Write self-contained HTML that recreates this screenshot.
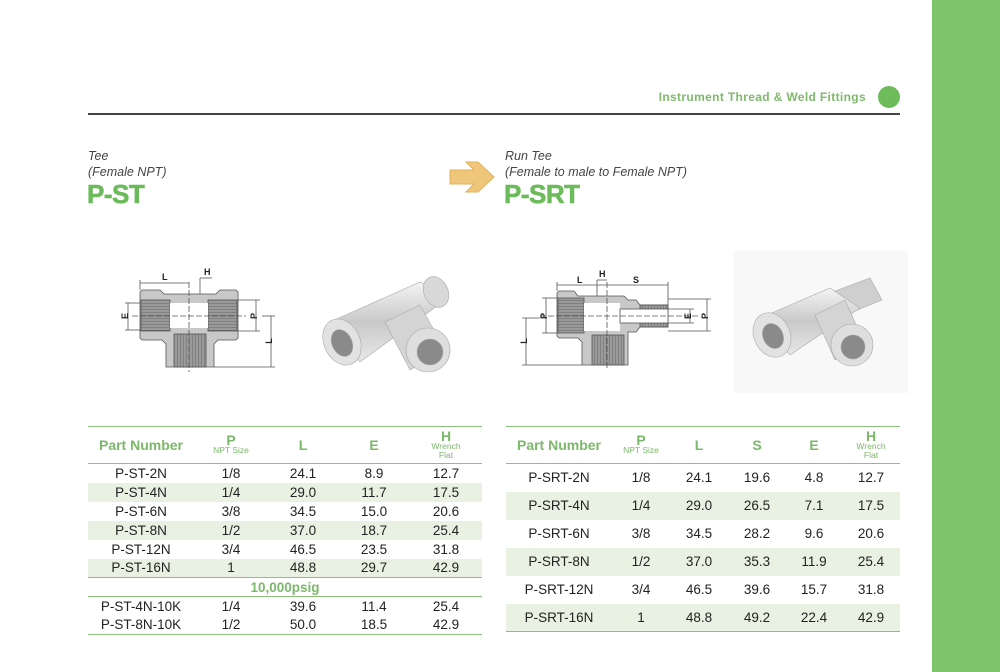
<!DOCTYPE html>
<html><head><meta charset="utf-8"><style>
*{margin:0;padding:0;box-sizing:border-box}
body{width:1000px;height:672px;background:#fff;position:relative;overflow:hidden;font-family:"Liberation Sans",sans-serif;color:#333}
.abs{position:absolute}
.sub{font-style:italic;font-size:12.5px;color:#444;line-height:16px}
.code{font-weight:bold;font-size:26px;color:#6cbb5a;letter-spacing:-0.5px;-webkit-text-stroke:0.6px #6cbb5a}
table{border-collapse:collapse;position:absolute;font-size:13.5px;color:#222}
td{text-align:center;padding:0}
tr.h td{color:#7cb86a;font-weight:bold;font-size:14px;border-top:1.5px solid #8bc27b;border-bottom:1.5px solid #8bc27b;height:37px;line-height:11px}
tr.h td small{display:block;font-size:8.5px;font-weight:normal;line-height:9px}
tr.s td{background:#e9f2e2}
tr.last td{border-bottom:1.5px solid #8bc27b}
</style></head><body>
<div class="abs" style="left:932px;top:0;width:68px;height:672px;background:#7dc46b"></div>
<div class="abs" style="right:134px;top:90px;font-size:12px;font-weight:bold;color:#7fba6c;letter-spacing:0.35px">Instrument Thread &amp; Weld Fittings</div>
<div class="abs" style="left:878px;top:86px;width:22px;height:22px;border-radius:50%;background:#6dbb5b"></div>
<div class="abs" style="left:88px;top:113px;width:812px;height:2px;background:#444"></div>

<div class="abs sub" style="left:88px;top:148px">Tee<br>(Female NPT)</div>
<div class="abs code" style="left:87px;top:179px">P-ST</div>
<div class="abs sub" style="left:505px;top:148px">Run Tee<br>(Female to male to Female NPT)</div>
<div class="abs code" style="left:504px;top:179px">P-SRT</div>
<svg class="abs" style="left:448px;top:160px" width="50" height="36"><polygon points="2,10 26,10 18,2 30,2 46,17 30,32 18,32 26,24 2,24" fill="#f0c77a" stroke="#e0b060" stroke-width="1"/></svg>

<svg class="abs" style="left:0;top:0" width="930" height="420">
<defs>
<pattern id="th" width="3" height="3" patternUnits="userSpaceOnUse"><rect width="3" height="3" fill="#9a9a9a"/><line x1="0" y1="0" x2="3" y2="0" stroke="#666" stroke-width="1"/></pattern>
<pattern id="tv" width="3" height="3" patternUnits="userSpaceOnUse"><rect width="3" height="3" fill="#9a9a9a"/><line x1="0" y1="0" x2="0" y2="3" stroke="#666" stroke-width="1"/></pattern>
<linearGradient id="met" x1="0" y1="0" x2="0" y2="1"><stop offset="0" stop-color="#f4f4f4"/><stop offset=".5" stop-color="#c9c9c9"/><stop offset="1" stop-color="#e8e8e8"/></linearGradient>
</defs>
<g stroke="#555" stroke-width="0.8" font-size="9" font-weight="bold" fill="#222">
<path d="M142,290 L160,290 L164,294 L216,294 L220,290 L236,290 L238,292 L238,338 L236,340 L218,340 L214,344 L214,367 L166,367 L166,344 L162,340 L142,340 L140,338 L140,292Z" fill="#c8c8c8"/>
<rect x="141" y="300" width="29" height="31" fill="url(#th)"/>
<rect x="208" y="300" width="29" height="31" fill="url(#th)"/>
<rect x="174" y="334" width="32" height="33" fill="url(#tv)"/>
<rect x="170" y="303" width="38" height="25" fill="#fff" stroke="none"/>
<line x1="189" y1="282" x2="189" y2="372" stroke-dasharray="6,2"/>
<line x1="132" y1="316" x2="246" y2="316" stroke-dasharray="6,2"/>
<line x1="140" y1="283" x2="189" y2="283"/><line x1="140" y1="280" x2="140" y2="290"/>
<line x1="200" y1="294" x2="200" y2="278"/><line x1="200" y1="278" x2="212" y2="278"/>
<line x1="128" y1="303" x2="128" y2="330"/><line x1="125" y1="303" x2="140" y2="303"/><line x1="125" y1="330" x2="140" y2="330"/>
<line x1="256" y1="300" x2="256" y2="331"/><line x1="238" y1="300" x2="260" y2="300"/><line x1="238" y1="331" x2="260" y2="331"/>
<line x1="271" y1="316" x2="271" y2="367"/><line x1="214" y1="367" x2="275" y2="367"/><line x1="262" y1="316" x2="275" y2="316"/>
<text x="162" y="280" stroke="none">L</text><text x="204" y="275" stroke="none">H</text>
<text x="124" y="320" stroke="none" transform="rotate(-90 124 316)" text-anchor="middle">E</text>
<text x="253" y="320" stroke="none" transform="rotate(-90 253 316)" text-anchor="middle">P</text>
<text x="268" y="345" stroke="none" transform="rotate(-90 268 341)" text-anchor="middle">L</text>
<path d="M559,291 L574,291 L578,296 L624,296 L628,300 L636,300 L640,305 L668,305 L668,327 L640,327 L636,332 L628,332 L628,365 L582,365 L582,342 L578,338 L559,338 L557,336 L557,293Z" fill="#c8c8c8"/>
<rect x="558" y="298" width="26" height="35" fill="url(#th)"/>
<rect x="640" y="305" width="28" height="4" fill="url(#tv)"/><rect x="640" y="323" width="28" height="4" fill="url(#tv)"/>
<rect x="592" y="335" width="32" height="30" fill="url(#tv)"/>
<rect x="584" y="303" width="36" height="28" fill="#fff" stroke="none"/>
<rect x="620" y="309" width="48" height="14" fill="#fff"/>
<line x1="607" y1="282" x2="607" y2="370" stroke-dasharray="6,2"/>
<line x1="540" y1="316" x2="700" y2="316" stroke-dasharray="6,2"/>
<line x1="557" y1="285" x2="607" y2="285"/><line x1="557" y1="282" x2="557" y2="291"/>
<line x1="607" y1="285" x2="668" y2="285"/><line x1="668" y1="282" x2="668" y2="305"/>
<line x1="597" y1="296" x2="597" y2="280"/><line x1="597" y1="280" x2="607" y2="280"/>
<line x1="546" y1="298" x2="546" y2="333"/><line x1="542" y1="298" x2="557" y2="298"/><line x1="542" y1="333" x2="557" y2="333"/>
<line x1="526" y1="318" x2="526" y2="365"/><line x1="522" y1="365" x2="582" y2="365"/><line x1="522" y1="318" x2="540" y2="318"/>
<line x1="690" y1="309" x2="690" y2="323"/><line x1="668" y1="309" x2="694" y2="309"/><line x1="668" y1="323" x2="694" y2="323"/>
<line x1="707" y1="299" x2="707" y2="331"/><line x1="668" y1="299" x2="711" y2="299"/><line x1="668" y1="331" x2="711" y2="331"/>
<text x="577" y="283" stroke="none">L</text><text x="599" y="277" stroke="none">H</text><text x="633" y="283" stroke="none">S</text>
<text x="543" y="320" stroke="none" transform="rotate(-90 543 316)" text-anchor="middle">P</text>
<text x="523" y="345" stroke="none" transform="rotate(-90 523 341)" text-anchor="middle">L</text>
<text x="687" y="320" stroke="none" transform="rotate(-90 687 316)" text-anchor="middle">E</text>
<text x="704" y="320" stroke="none" transform="rotate(-90 704 316)" text-anchor="middle">P</text>
</g>
<g stroke="#aaa" stroke-width="0.6">
<polygon points="330,322 420,282 448,298 360,362" fill="url(#met)"/>
<ellipse cx="436" cy="292" rx="12" ry="16" fill="#d8d8d8" transform="rotate(-25 436 292)"/>
<polygon points="385,322 420,305 445,350 410,370" fill="#d4d4d4"/>
<ellipse cx="428" cy="350" rx="22" ry="22" fill="#dedede"/>
<ellipse cx="430" cy="352" rx="13" ry="13" fill="#8a8a8a"/>
<ellipse cx="342" cy="342" rx="18" ry="24" fill="#e2e2e2" transform="rotate(-25 342 342)"/>
<ellipse cx="342" cy="343" rx="10" ry="14" fill="#8a8a8a" transform="rotate(-25 342 343)"/>
</g>
<rect x="734" y="251" width="174" height="142" fill="#f8f8f8"/>
<g stroke="#aaa" stroke-width="0.6">
<polygon points="830,293 870,278 882,300 845,315" fill="#cfcfcf"/>
<polygon points="760,318 830,288 860,308 790,355" fill="url(#met)"/>
<polygon points="815,315 845,300 865,345 835,360" fill="#d4d4d4"/>
<ellipse cx="852" cy="345" rx="21" ry="21" fill="#dedede"/>
<ellipse cx="853" cy="347" rx="12" ry="12" fill="#8a8a8a"/>
<ellipse cx="772" cy="335" rx="18" ry="23" fill="#e2e2e2" transform="rotate(-25 772 335)"/>
<ellipse cx="773" cy="336" rx="10" ry="13" fill="#8a8a8a" transform="rotate(-25 773 336)"/>
</g>
</svg>

<table style="left:88px;top:426px;width:394px">
<colgroup><col style="width:106px"><col style="width:74px"><col style="width:70px"><col style="width:72px"><col style="width:72px"></colgroup>
<tr class="h"><td>Part Number</td><td>P<small>NPT Size</small></td><td>L</td><td>E</td><td>H<small>Wrench<br>Flat</small></td></tr>
<tr style="height:19px"><td>P-ST-2N</td><td>1/8</td><td>24.1</td><td>8.9</td><td>12.7</td></tr>
<tr class="s" style="height:19px"><td>P-ST-4N</td><td>1/4</td><td>29.0</td><td>11.7</td><td>17.5</td></tr>
<tr style="height:19px"><td>P-ST-6N</td><td>3/8</td><td>34.5</td><td>15.0</td><td>20.6</td></tr>
<tr class="s" style="height:19px"><td>P-ST-8N</td><td>1/2</td><td>37.0</td><td>18.7</td><td>25.4</td></tr>
<tr style="height:19px"><td>P-ST-12N</td><td>3/4</td><td>46.5</td><td>23.5</td><td>31.8</td></tr>
<tr class="s last" style="height:19px"><td>P-ST-16N</td><td>1</td><td>48.8</td><td>29.7</td><td>42.9</td></tr>
<tr style="height:19px"><td colspan="5" style="color:#7cb86a;font-weight:bold;border-bottom:1.5px solid #8bc27b">10,000psig</td></tr>
<tr style="height:19px"><td>P-ST-4N-10K</td><td>1/4</td><td>39.6</td><td>11.4</td><td>25.4</td></tr>
<tr class="last" style="height:19px"><td>P-ST-8N-10K</td><td>1/2</td><td>50.0</td><td>18.5</td><td>42.9</td></tr>
</table>

<table style="left:506px;top:426px;width:394px">
<colgroup><col style="width:106px"><col style="width:58px"><col style="width:58px"><col style="width:58px"><col style="width:56px"><col style="width:58px"></colgroup>
<tr class="h"><td>Part Number</td><td>P<small>NPT Size</small></td><td>L</td><td>S</td><td>E</td><td>H<small>Wrench<br>Flat</small></td></tr>
<tr style="height:28px"><td>P-SRT-2N</td><td>1/8</td><td>24.1</td><td>19.6</td><td>4.8</td><td>12.7</td></tr>
<tr class="s" style="height:28px"><td>P-SRT-4N</td><td>1/4</td><td>29.0</td><td>26.5</td><td>7.1</td><td>17.5</td></tr>
<tr style="height:28px"><td>P-SRT-6N</td><td>3/8</td><td>34.5</td><td>28.2</td><td>9.6</td><td>20.6</td></tr>
<tr class="s" style="height:28px"><td>P-SRT-8N</td><td>1/2</td><td>37.0</td><td>35.3</td><td>11.9</td><td>25.4</td></tr>
<tr style="height:28px"><td>P-SRT-12N</td><td>3/4</td><td>46.5</td><td>39.6</td><td>15.7</td><td>31.8</td></tr>
<tr class="s last" style="height:28px"><td>P-SRT-16N</td><td>1</td><td>48.8</td><td>49.2</td><td>22.4</td><td>42.9</td></tr>
</table>
</body></html>
